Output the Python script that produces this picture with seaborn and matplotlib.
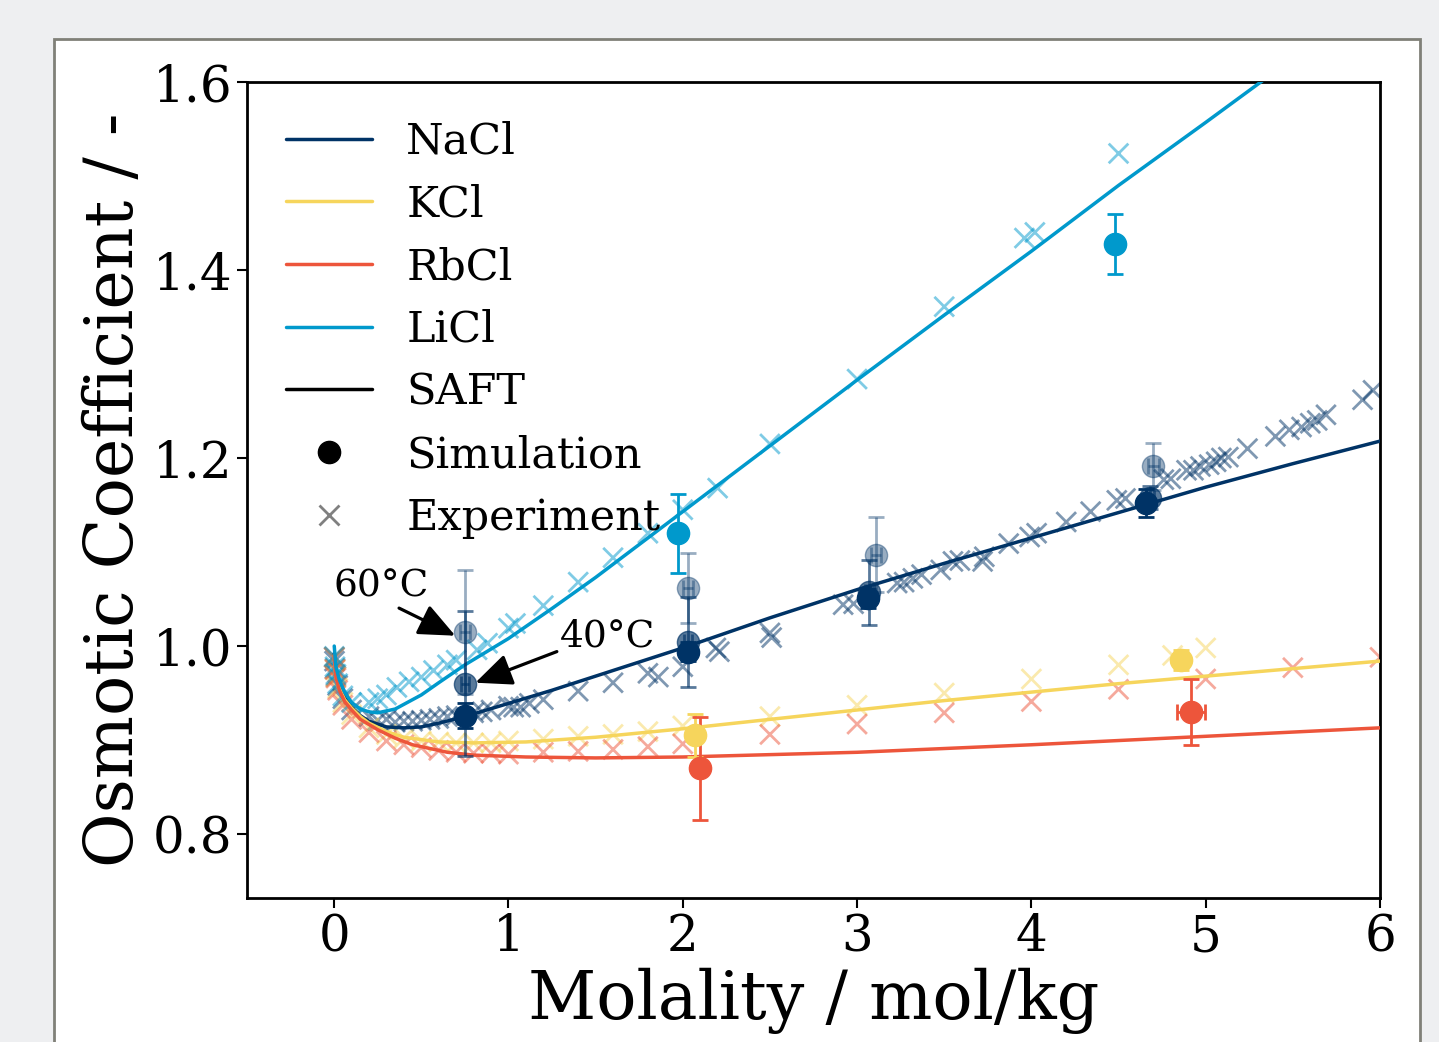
import numpy as np
import pandas as pd
import matplotlib
matplotlib.use("Agg")
import matplotlib.pyplot as plt
from matplotlib.lines import Line2D
from matplotlib.patches import Rectangle
import seaborn as sns

# ---------------- data ----------------
salts = ["NaCl", "KCl", "RbCl", "LiCl"]
colors = {"NaCl": "#003366", "KCl": "#f6d55c", "RbCl": "#ed553b", "LiCl": "#0099cc"}

# SAFT curves
saft_nacl_m = [0.0005, 0.01, 0.03, 0.06, 0.1, 0.15, 0.2, 0.3, 0.4, 0.5, 0.6, 0.75, 1.0, 1.25, 1.5, 2.0, 2.5, 3.0, 3.5, 4.0, 4.5, 5.0, 5.5, 6.0]
saft_nacl_phi = [0.992, 0.972, 0.958, 0.945, 0.935, 0.926, 0.920, 0.914, 0.913, 0.914, 0.918, 0.925, 0.939, 0.953, 0.968, 0.998, 1.030, 1.060, 1.088, 1.115, 1.142, 1.169, 1.194, 1.218]
saft_licl_m = [0.0005, 0.01, 0.03, 0.06, 0.1, 0.15, 0.2, 0.25, 0.35, 0.5, 0.6, 0.75, 1.0, 1.25, 1.5, 2.0, 2.5, 3.0, 3.5, 4.0, 4.5, 5.0, 5.5, 6.0]
saft_licl_phi = [1.000, 0.978, 0.964, 0.951, 0.940, 0.933, 0.930, 0.929, 0.933, 0.948, 0.961, 0.980, 1.008, 1.040, 1.073, 1.143, 1.213, 1.283, 1.352, 1.420, 1.490, 1.557, 1.625, 1.690]
saft_kcl_m = [0.0005, 0.01, 0.03, 0.06, 0.1, 0.15, 0.2, 0.3, 0.4, 0.6, 0.8, 1.1, 1.5, 2.0, 2.5, 3.0, 3.5, 4.0, 4.5, 5.0, 5.5, 6.0]
saft_kcl_phi = [0.990, 0.968, 0.955, 0.943, 0.934, 0.925, 0.918, 0.909, 0.903, 0.898, 0.897, 0.898, 0.903, 0.912, 0.922, 0.932, 0.942, 0.951, 0.960, 0.968, 0.976, 0.984]
saft_rbcl_m = [0.0005, 0.01, 0.03, 0.06, 0.1, 0.15, 0.25, 0.35, 0.45, 0.65, 0.8, 1.1, 1.5, 2.0, 3.0, 4.0, 5.0, 6.0]
saft_rbcl_phi = [0.990, 0.967, 0.953, 0.941, 0.932, 0.922, 0.911, 0.902, 0.895, 0.887, 0.884, 0.882, 0.881, 0.882, 0.887, 0.895, 0.904, 0.913]

# Experimental data
exp_nacl_m = [0.001, 0.002, 0.005, 0.01, 0.02, 0.05, 0.1, 0.2, 0.25, 0.3, 0.35, 0.4, 0.45, 0.5, 0.55, 0.6, 0.65, 0.7, 0.8, 0.85, 0.9, 1.0,
              1.03, 1.07, 1.12, 1.2, 1.4, 1.6, 1.8, 1.86, 2.0, 2.19, 2.21, 2.5, 2.51, 2.92, 2.98, 3.23, 3.27, 3.32, 3.37,
              3.48, 3.55, 3.59, 3.72, 3.73, 3.87, 3.99, 4.03, 4.2, 4.34, 4.49, 4.54, 4.76, 4.8, 4.89, 4.93, 4.97, 5.02,
              5.06, 5.09, 5.13, 5.24, 5.4, 5.48, 5.55, 5.6, 5.64, 5.69, 5.9, 5.96]
exp_nacl_phi = [0.988, 0.984, 0.976, 0.968, 0.958, 0.944, 0.932, 0.925, 0.921, 0.922, 0.919, 0.920, 0.920, 0.921, 0.922, 0.923, 0.925, 0.926, 0.929, 0.930, 0.932, 0.936,
                0.935, 0.935, 0.939, 0.943, 0.952, 0.961, 0.971, 0.967, 0.978, 0.998, 0.994, 1.014, 1.009, 1.044, 1.045, 1.067, 1.068, 1.072, 1.076,
                1.081, 1.090, 1.091, 1.090, 1.095, 1.109, 1.116, 1.120, 1.132, 1.143, 1.155, 1.157, 1.177, 1.178, 1.187, 1.187, 1.191, 1.193,
                1.196, 1.200, 1.201, 1.210, 1.223, 1.230, 1.233, 1.237, 1.240, 1.246, 1.262, 1.272]
exp_licl_m = [0.001, 0.005, 0.01, 0.02, 0.05, 0.1, 0.2, 0.25, 0.3, 0.36, 0.43, 0.5, 0.57, 0.65, 0.7, 0.82, 0.88, 1.0, 1.04,
              1.2, 1.4, 1.6, 1.8, 2.0, 2.2, 2.5, 3.0, 3.5, 3.96, 4.02, 4.5]
exp_licl_phi = [0.989, 0.978, 0.970, 0.960, 0.947, 0.940, 0.940, 0.944, 0.948, 0.956, 0.962, 0.967, 0.974, 0.980, 0.985, 0.996, 1.003, 1.019, 1.024,
                1.043, 1.068, 1.094, 1.120, 1.145, 1.168, 1.215, 1.284, 1.361, 1.434, 1.440, 1.524]
exp_kcl_m = [0.001, 0.005, 0.01, 0.02, 0.05, 0.1, 0.2, 0.3, 0.4, 0.5, 0.6, 0.7, 0.8, 0.9, 1.0, 1.2, 1.4, 1.6, 1.8, 2.0,
             2.5, 3.0, 3.5, 4.0, 4.5, 4.81, 5.0]
exp_kcl_phi = [0.988, 0.975, 0.967, 0.955, 0.940, 0.927, 0.913, 0.906, 0.902, 0.899, 0.898, 0.897, 0.897, 0.897, 0.899, 0.901, 0.904, 0.906, 0.909, 0.915,
               0.925, 0.937, 0.950, 0.965, 0.980, 0.990, 0.998]
exp_rbcl_m = [0.001, 0.005, 0.01, 0.02, 0.05, 0.1, 0.2, 0.3, 0.4, 0.5, 0.6, 0.7, 0.8, 0.9, 1.0, 1.2, 1.4, 1.6, 1.8, 2.0,
              2.5, 3.0, 3.5, 4.0, 4.5, 5.0, 5.5, 6.0]
exp_rbcl_phi = [0.988, 0.975, 0.966, 0.953, 0.937, 0.922, 0.908, 0.899, 0.895, 0.892, 0.889, 0.887, 0.886, 0.886, 0.885, 0.887, 0.888, 0.890, 0.893, 0.896,
                0.906, 0.917, 0.929, 0.941, 0.954, 0.965, 0.977, 0.988]

# Simulation data (molality, phi, y-error, x-error)
sim_nacl25_m = [0.75, 2.03, 3.065, 4.66]
sim_nacl25_phi = [0.926, 0.994, 1.051, 1.152]
sim_nacl25_yerr = [0.013, 0.010, 0.010, 0.015]
sim_nacl25_xerr = [0.02, 0.02, 0.02, 0.02]
sim_nacl40_m = [0.75, 2.03, 3.07, 4.68]
sim_nacl40_phi = [0.960, 1.004, 1.057, 1.158]
sim_nacl40_yerr = [0.077, 0.048, 0.035, 0.012]
sim_nacl40_xerr = [0.025, 0.025, 0.025, 0.025]
sim_nacl60_m = [0.75, 2.03, 3.11, 4.70]
sim_nacl60_phi = [1.015, 1.062, 1.097, 1.191]
sim_nacl60_yerr = [0.066, 0.037, 0.040, 0.025]
sim_nacl60_xerr = [0.03, 0.03, 0.03, 0.03]
sim_licl_m = [1.975, 4.48]
sim_licl_phi = [1.120, 1.428]
sim_licl_yerr = [0.042, 0.032]
sim_kcl_m = [2.07, 4.86]
sim_kcl_phi = [0.905, 0.985]
sim_kcl_yerr = [0.023, 0.011]
sim_kcl_xerr = [0.02, 0.04]
sim_rbcl_m = [2.10, 4.914]
sim_rbcl_phi = [0.870, 0.930]
sim_rbcl_yerr = [0.055, 0.035]
sim_rbcl_xerr = [0.03, 0.08]

# ---------------- build frames ----------------
saft_df = pd.concat([
    pd.DataFrame({"m": saft_nacl_m, "phi": saft_nacl_phi, "salt": "NaCl"}),
    pd.DataFrame({"m": saft_kcl_m, "phi": saft_kcl_phi, "salt": "KCl"}),
    pd.DataFrame({"m": saft_rbcl_m, "phi": saft_rbcl_phi, "salt": "RbCl"}),
    pd.DataFrame({"m": saft_licl_m, "phi": saft_licl_phi, "salt": "LiCl"}),
], ignore_index=True)
exp_df = pd.concat([
    pd.DataFrame({"m": exp_nacl_m, "phi": exp_nacl_phi, "salt": "NaCl"}),
    pd.DataFrame({"m": exp_kcl_m, "phi": exp_kcl_phi, "salt": "KCl"}),
    pd.DataFrame({"m": exp_rbcl_m, "phi": exp_rbcl_phi, "salt": "RbCl"}),
    pd.DataFrame({"m": exp_licl_m, "phi": exp_licl_phi, "salt": "LiCl"}),
], ignore_index=True)

# ---------------- style ----------------
sns.set_theme(style="ticks")
plt.rcParams["font.family"] = ["DejaVu Serif"]
plt.rcParams["mathtext.fontset"] = "dejavuserif"
for key in ["text.color", "axes.labelcolor", "xtick.color", "ytick.color", "xtick.labelcolor", "ytick.labelcolor"]:
    plt.rcParams[key] = "black"

fig = plt.figure(figsize=(14.39, 10.42), dpi=100, facecolor="#eeeff1")
# white panel with grey border (page look)
panel = Rectangle((54 / 1439, -0.02), (1420 - 54) / 1439, 1.02 - 39 / 1042,
                  transform=fig.transFigure, facecolor="white", edgecolor="#808078",
                  linewidth=2.0, zorder=-10)
fig.patches.append(panel)

ax = fig.add_axes([247 / 1439, 1 - 898 / 1042, (1380 - 247) / 1439, (898 - 82) / 1042])
ax.set_zorder(1)
ax.set_facecolor("white")

# experiments
sns.scatterplot(data=exp_df, x="m", y="phi", hue="salt", palette=colors, marker="x",
                s=200, linewidth=2.0, alpha=0.5, legend=False, ax=ax, zorder=2)
# SAFT
sns.lineplot(data=saft_df, x="m", y="phi", hue="salt", palette=colors, estimator=None,
             sort=True, linewidth=2.5, legend=False, ax=ax, zorder=3)

# simulations
def sim(mx, py, yerr, xerr, color, alpha):
    ax.errorbar(mx, py, yerr=yerr, xerr=xerr, fmt="o", color=color, ms=16,
                elinewidth=2, capsize=6, capthick=2, alpha=alpha, zorder=4)

sim(sim_nacl60_m, sim_nacl60_phi, sim_nacl60_yerr, sim_nacl60_xerr, colors["NaCl"], 0.4)
sim(sim_nacl40_m, sim_nacl40_phi, sim_nacl40_yerr, sim_nacl40_xerr, colors["NaCl"], 0.65)
sim(sim_nacl25_m, sim_nacl25_phi, sim_nacl25_yerr, sim_nacl25_xerr, colors["NaCl"], 1.0)
sim(sim_licl_m, sim_licl_phi, sim_licl_yerr, None, colors["LiCl"], 1.0)
sim(sim_kcl_m, sim_kcl_phi, sim_kcl_yerr, sim_kcl_xerr, colors["KCl"], 1.0)
sim(sim_rbcl_m, sim_rbcl_phi, sim_rbcl_yerr, sim_rbcl_xerr, colors["RbCl"], 1.0)

# annotations
arrow_style = "-|>,head_length=0.8,head_width=0.35"
ax.annotate("60°C", xy=(0.695, 1.011), xytext=(0.27, 1.063), fontsize=27,
            ha="center", va="center", zorder=6,
            arrowprops=dict(arrowstyle=arrow_style, color="black",
                            lw=2.3, mutation_scale=28, relpos=(0.54, 0.1), shrinkA=0, shrinkB=0))
ax.annotate("40°C", xy=(0.81, 0.961), xytext=(1.57, 1.010), fontsize=27,
            ha="center", va="center", zorder=6,
            arrowprops=dict(arrowstyle=arrow_style, color="black",
                            lw=2.3, mutation_scale=28, relpos=(0.0, 0.12), shrinkA=0, shrinkB=0))

ax.set_xlim(-0.5, 6)
ax.set_ylim(0.732, 1.6)
ax.set_xticks([0, 1, 2, 3, 4, 5, 6])
ax.set_yticks([0.8, 1.0, 1.2, 1.4, 1.6])
ax.set_yticklabels(["0.8", "1.0", "1.2", "1.4", "1.6"])
ax.tick_params(axis="both", labelsize=36, length=7, width=1.5, direction="out",
               color="black", labelcolor="black")
for sp in ax.spines.values():
    sp.set_linewidth(2)
    sp.set_color("black")
ax.set_xlabel("Molality / mol/kg", fontsize=48, labelpad=4, color="black")
ax.set_ylabel("Osmotic Coefficient / -", fontsize=48, labelpad=4, color="black")

handles = [Line2D([], [], color=colors[s], lw=2.5) for s in salts]
handles += [Line2D([], [], color="black", lw=2.5),
            Line2D([], [], color="black", marker="o", ls="none", ms=16),
            Line2D([], [], color="grey", marker="x", ls="none", ms=14, mew=2)]
labels = salts + ["SAFT", "Simulation", "Experiment"]
ax.legend(handles, labels, loc="upper left", fontsize=31, frameon=False,
          labelspacing=0.48, handlelength=2.0, handletextpad=0.8, borderaxespad=0.5)

fig.savefig("out.png", dpi=100, facecolor=fig.get_facecolor())
